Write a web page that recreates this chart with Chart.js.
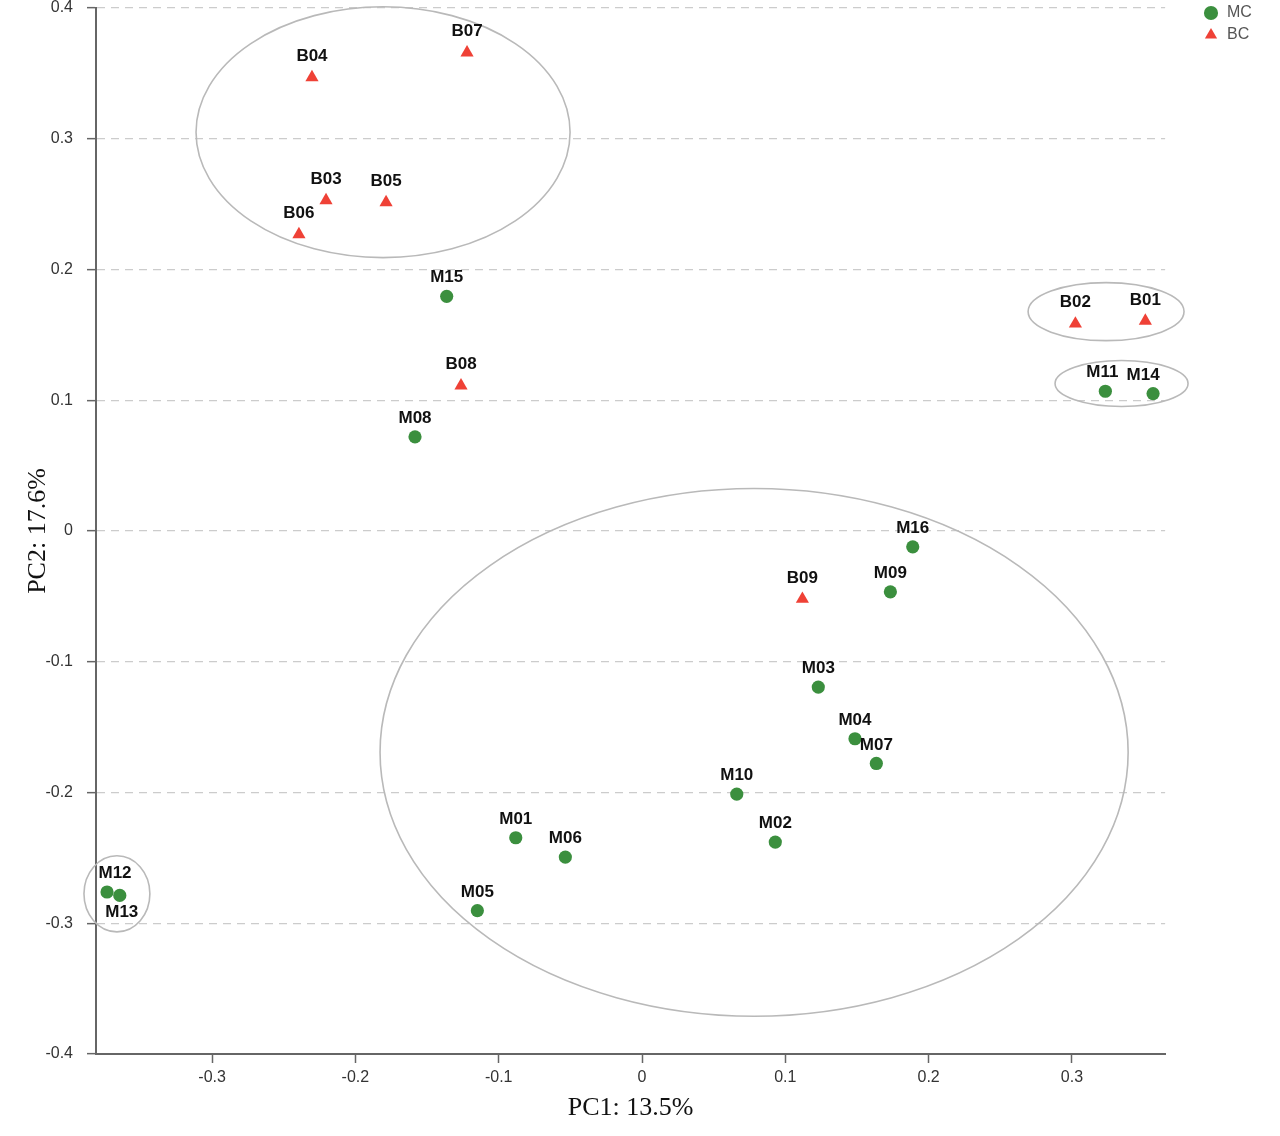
<!DOCTYPE html>
<html>
<head>
<meta charset="utf-8">
<script src="https://cdn.jsdelivr.net/npm/chart.js@4.4.1/dist/chart.umd.min.js"></script>
<style>
html,body{margin:0;padding:0;background:#ffffff;}
#wrap{width:1280px;height:1136px;}
</style>
</head>
<body>
<div id="wrap"><canvas id="c" width="1280" height="1136"></canvas></div>
<script>
// ---- data ----
const mcLabels = ['M01','M02','M03','M04','M05','M06','M07','M08','M09','M10','M11','M12','M13','M14','M15','M16'];
const mcPC1 = [-0.0881, 0.0930, 0.1230, 0.1486, -0.1149, -0.0535, 0.1635, -0.1584, 0.1733, 0.0661, 0.3233, -0.3733, -0.3644, 0.3566, -0.1363, 0.1889];
const mcPC2 = [-0.2346, -0.2379, -0.1194, -0.1589, -0.2904, -0.2494, -0.1778, 0.0720, -0.0465, -0.2012, 0.1069, -0.2761, -0.2787, 0.1051, 0.1795, -0.0121];

const bcLabels = ['B01','B02','B03','B04','B05','B06','B07','B08','B09'];
const bcPC1 = [0.3512, 0.3024, -0.2205, -0.2303, -0.1786, -0.2394, -0.1221, -0.1263, 0.1119];
const bcPC2 = [0.1607, 0.1585, 0.2528, 0.3469, 0.2513, 0.2268, 0.3658, 0.1112, -0.0520];

// group ellipses (data units: centre and semi-axes)
const ellipseCX = [-0.1807, 0.3238, 0.3346, 0.0782, -0.3664];
const ellipseCY = [0.3050, 0.1678, 0.1128, -0.1693, -0.2775];
const ellipseRX = [0.1305, 0.0544, 0.0464, 0.2610, 0.0230];
const ellipseRY = [0.0959, 0.0222, 0.0176, 0.2018, 0.0291];

const xTicks = [-0.3, -0.2, -0.1, 0, 0.1, 0.2, 0.3];
const xTickLabels = ['-0.3', '-0.2', '-0.1', '0', '0.1', '0.2', '0.3'];
const yTicks = [-0.4, -0.3, -0.2, -0.1, 0, 0.1, 0.2, 0.3, 0.4];
const yTickLabels = ['-0.4', '-0.3', '-0.2', '-0.1', '0', '0.1', '0.2', '0.3', '0.4'];

// ---- label placement style (pixel nudges) ----
const labelNudge = { M11: [-3, 0], M12: [8, 0], M13: [2, 35], M14: [-10, 0] };
const labelGap = [18.5, 21];

const SANS = '"Liberation Sans", Arial, Helvetica, sans-serif';
const SERIF = '"Liberation Serif", "Times New Roman", Times, serif';
Chart.defaults.font.family = SANS;

const ellipsePlugin = {
  id: 'groupEllipses',
  beforeDatasetsDraw(chart) {
    const { ctx } = chart;
    const xs = chart.scales.x, ys = chart.scales.y;
    ctx.save();
    ctx.strokeStyle = '#b9b9b9';
    ctx.lineWidth = 1.6;
    for (let i = 0; i < ellipseCX.length; i++) {
      const cx = xs.getPixelForValue(ellipseCX[i]);
      const cy = ys.getPixelForValue(ellipseCY[i]);
      const rx = Math.abs(xs.getPixelForValue(ellipseCX[i] + ellipseRX[i]) - cx);
      const ry = Math.abs(ys.getPixelForValue(ellipseCY[i] + ellipseRY[i]) - cy);
      ctx.beginPath();
      ctx.ellipse(cx, cy, rx, ry, 0, 0, Math.PI * 2);
      ctx.stroke();
    }
    ctx.restore();
  }
};

const labelPlugin = {
  id: 'pointNames',
  afterDatasetsDraw(chart) {
    const { ctx } = chart;
    ctx.save();
    ctx.font = 'bold 17px ' + SANS;
    ctx.fillStyle = '#111111';
    ctx.textAlign = 'center';
    ctx.textBaseline = 'middle';
    chart.data.datasets.forEach((ds, di) => {
      const meta = chart.getDatasetMeta(di);
      meta.data.forEach((el, i) => {
        const name = ds.names[i];
        const n = labelNudge[name] || [0, 0];
        ctx.fillText(name, el.x + n[0], el.y - labelGap[di] + n[1]);
      });
    });
    ctx.restore();
  }
};

const legendPlacePlugin = {
  id: 'legendPlace',
  beforeDraw(chart) {
    const lg = chart.legend;
    if (!lg) return;
    const w = lg.width, h = lg.height;
    lg.left = 1197; lg.right = lg.left + w;
    lg.top = -1; lg.bottom = lg.top + h;
  }
};

const mcPoints = mcPC1.map((v, i) => ({ x: v, y: mcPC2[i] }));
const bcPoints = bcPC1.map((v, i) => ({ x: v, y: bcPC2[i] }));

new Chart(document.getElementById('c'), {
  type: 'scatter',
  data: {
    datasets: [
      {
        label: 'MC', names: mcLabels, data: mcPoints,
        pointStyle: 'circle', pointRadius: 6.6, pointHoverRadius: 6.6,
        backgroundColor: '#3b8f3e', borderColor: '#3b8f3e', pointBorderWidth: 0, borderWidth: 0
      },
      {
        label: 'BC', names: bcLabels, data: bcPoints,
        pointStyle: 'triangle', pointRadius: 7.6, pointHoverRadius: 7.6,
        backgroundColor: '#ef4136', borderColor: '#ef4136', pointBorderWidth: 0, borderWidth: 0
      }
    ]
  },
  options: {
    responsive: false,
    animation: false,
    devicePixelRatio: 1,
    layout: { padding: { top: 8, right: 50, bottom: 0, left: 0 } },
    plugins: {
      tooltip: { enabled: false },
      legend: {
        position: 'right', align: 'start',
        labels: { usePointStyle: true, boxWidth: 16, boxHeight: 10, padding: 6, color: '#555555', font: { size: 16, family: SANS } }
      }
    },
    scales: {
      x: {
        type: 'linear', min: -0.381, max: 0.365,
        afterBuildTicks: s => { s.ticks = xTicks.map(v => ({ value: v })); },
        afterFit: s => { s.height = 82; s.paddingLeft = 0; s.paddingRight = 0; },
        ticks: {
          autoSkip: false, maxRotation: 0, padding: 5, color: '#333333', font: { size: 16, family: SANS },
          callback: (v) => xTickLabels[xTicks.indexOf(v)] ?? ''
        },
        grid: { drawOnChartArea: false, drawTicks: true, tickLength: 9, tickColor: '#666666', tickWidth: 1.5 },
        border: { display: true, color: '#666666', width: 2 },
        title: { display: true, text: 'PC1: 13.5%', color: '#111111', font: { family: SERIF, size: 26 }, padding: { top: 0, bottom: 12 } }
      },
      y: {
        type: 'linear', min: -0.4, max: 0.4,
        afterBuildTicks: s => { s.ticks = yTicks.map(v => ({ value: v })); },
        afterFit: s => { s.width = 96; s.paddingTop = 0; s.paddingBottom = 0; },
        ticks: {
          autoSkip: false, padding: 14, color: '#333333', font: { size: 16, family: SANS },
          callback: (v) => yTickLabels[yTicks.indexOf(v)] ?? ''
        },
        grid: { drawOnChartArea: true, color: '#cccccc', lineWidth: 1.3, drawTicks: true, tickLength: 9, tickColor: '#666666', tickWidth: 1.5 },
        border: { display: true, color: '#666666', width: 2, dash: [8, 6] },
        title: { display: true, text: 'PC2: 17.6%', color: '#111111', font: { family: SERIF, size: 26 }, padding: { top: 23, bottom: 0 } }
      }
    }
  },
  plugins: [ellipsePlugin, labelPlugin, legendPlacePlugin]
});
</script>
</body>
</html>
